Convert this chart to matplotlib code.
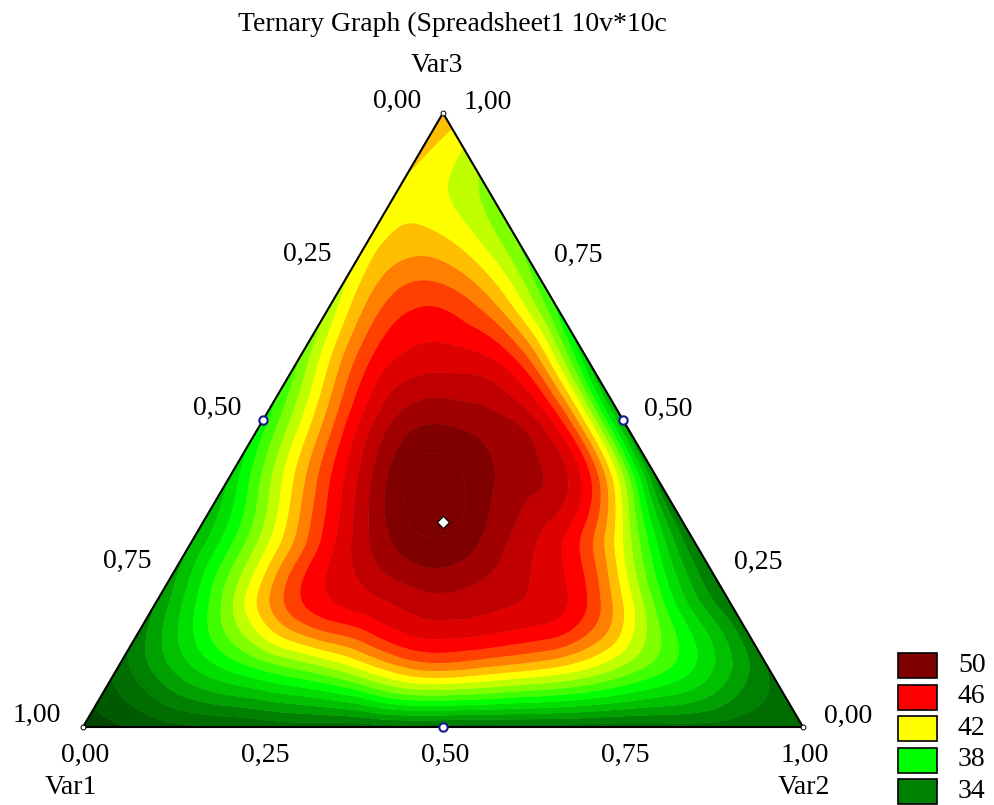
import numpy as np
import matplotlib
matplotlib.use("Agg")
import matplotlib.pyplot as plt
import matplotlib.tri as mtri
from matplotlib.colors import to_rgb
from matplotlib.patches import Rectangle

plt.rcParams["font.family"] = ["Liberation Serif", "DejaVu Serif"]

# ---------------- data ----------------
title = "Ternary Graph (Spreadsheet1 10v*10c"
axis_names = ["Var1", "Var2", "Var3"]
tick_values = [0.0, 0.25, 0.5, 0.75, 1.0]
tick_labels = ["0,00", "0,25", "0,50", "0,75", "1,00"]

# Response at lattice points (step 0.1).
# Row k: Var3 = k/10 ; values run from Var2 = 0 (left edge) to Var2 = 1 - Var3 (right edge)
z_rows = [
    [31.5, 32.5, 33.0, 33.5, 33.5, 33.5, 33.5, 33.5, 33.5, 33.5, 34.0],
    [33.5, 37.0, 39.5, 41.5, 44.3, 44.3, 43.3, 41.0, 38.0, 34.0],
    [35.0, 40.5, 45.8, 47.6, 48.6, 48.0, 46.0, 39.5, 34.0],
    [36.0, 41.5, 47.0, 50.5, 50.0, 47.5, 42.0, 34.0],
    [37.0, 43.5, 49.0, 51.5, 49.5, 46.5, 34.5],
    [38.5, 45.0, 49.5, 49.5, 47.0, 35.5],
    [40.0, 46.0, 47.5, 46.0, 37.0],
    [41.5, 45.5, 44.5, 39.0],
    [42.5, 43.0, 40.0],
    [43.0, 41.0],
    [44.0],
]

# design points (cases) shown with markers: (Var1, Var2, Var3)
pt_var1 = [0.5, 0.0, 0.5]
pt_var2 = [0.0, 0.5, 0.5]
pt_var3 = [0.5, 0.5, 0.0]
centroid = (1 / 3, 1 / 3, 1 / 3)
vert_var1 = [1.0, 0.0, 0.0]
vert_var2 = [0.0, 1.0, 0.0]
vert_var3 = [0.0, 0.0, 1.0]

legend_values = [50, 46, 42, 38, 34]
legend_colors = ["#800000", "#FF0000", "#FFFF00", "#00FF00", "#008000"]

# ---------------- helpers ----------------
H = np.sqrt(3) / 2


def tern_xy(v1, v2, v3):
    v1, v2, v3 = np.asarray(v1, float), np.asarray(v2, float), np.asarray(v3, float)
    s = v1 + v2 + v3
    return (v2 + v3 / 2) / s, v3 * H / s


# lattice
V1, V2, V3, Z = [], [], [], []
for k, row in enumerate(z_rows):
    for j, z in enumerate(row):
        v3 = k / 10
        v2 = j / 10
        V1.append(1 - v2 - v3)
        V2.append(v2)
        V3.append(v3)
        Z.append(z)
X, Y = tern_xy(V1, V2, V3)
Z = np.array(Z)

tri = mtri.Triangulation(X, Y)
refiner = mtri.UniformTriRefiner(tri)
interp = mtri.CubicTriInterpolator(tri, Z, kind="min_E")
tri_f, z_f = refiner.refine_field(Z, triinterpolator=interp, subdiv=4)

# colour bands (1 unit wide), colours interpolated between legend anchors
anchor_v = [29, 34, 38, 42, 46, 50, 54]
anchor_c = ["#002000", "#008000", "#00FF00", "#FFFF00", "#FF0000", "#800000", "#700000"]
anchor_rgb = np.array([to_rgb(c) for c in anchor_c])
levels = np.arange(29, 55, 1.0)


def col_at(v):
    return tuple(np.interp(v, anchor_v, anchor_rgb[:, i]) for i in range(3))


band_colors = [col_at(l) for l in levels[:-1]]

# ---------------- figure ----------------
W, Hpx = 995, 805
fig = plt.figure(figsize=(W / 100, Hpx / 100), dpi=100)
# triangle: bottom-left (83,727), bottom-right (803,727), top (443,113) in pixels
ax = fig.add_axes([83 / W, (Hpx - 727) / Hpx, 720 / W, 614 / Hpx])
ax.set_xlim(0, 1)
ax.set_ylim(0, H)
ax.axis("off")

for _ in range(2):
    ax.tricontourf(tri_f, z_f, levels=levels, colors=band_colors, extend="both", antialiased=True)

tx, ty = tern_xy(vert_var1 + [vert_var1[0]], vert_var2 + [vert_var2[0]], vert_var3 + [vert_var3[0]])
ax.plot(tx, ty, color="black", lw=1.5, clip_on=False, zorder=5)

# markers
mx, my = tern_xy(pt_var1, pt_var2, pt_var3)
ax.plot(mx, my, "o", ms=6, mfc="white", mec="#1a1a8c", mew=1.5, clip_on=False, zorder=6)
cx, cy = tern_xy(*centroid)
ax.plot([cx], [cy], "D", ms=6.5, mfc="white", mec="black", mew=0.8, clip_on=False, zorder=6)
vx, vy = tern_xy(vert_var1, vert_var2, vert_var3)
ax.plot(vx, vy, "o", ms=3.5, mfc="white", mec="black", mew=0.7, clip_on=False, zorder=6)

fs = 20
# left edge: Var1 scale (0 at top, 1 at bottom-left)
for t, lab in zip(tick_values, tick_labels):
    px, py = tern_xy(t, 0.0, 1 - t)
    ax.annotate(lab, (px, py), xytext=(-46, 12), textcoords="offset pixels",
                ha="center", va="center", fontsize=fs, annotation_clip=False)
# right edge: Var3 scale (0 at bottom-right, 1 at top)
for t, lab in zip(tick_values, tick_labels):
    px, py = tern_xy(0.0, 1 - t, t)
    ax.annotate(lab, (px, py), xytext=(45, 11), textcoords="offset pixels",
                ha="center", va="center", fontsize=fs, annotation_clip=False)
# bottom edge: Var2 scale (0 at left, 1 at right)
for t, lab in zip(tick_values, tick_labels):
    px, py = tern_xy(1 - t, t, 0.0)
    ax.annotate(lab, (px, py), xytext=(2, -28), textcoords="offset pixels",
                ha="center", va="center", fontsize=fs, annotation_clip=False)

fig.text(452 / W, 1 - 24 / Hpx, title, ha="center", va="center", fontsize=fs)
fig.text(437 / W, 1 - 66 / Hpx, axis_names[2], ha="center", va="center", fontsize=fs)
fig.text(71 / W, 1 - 787 / Hpx, axis_names[0], ha="center", va="center", fontsize=fs)
fig.text(804 / W, 1 - 787 / Hpx, axis_names[1], ha="center", va="center", fontsize=fs)

# legend
lax = fig.add_axes([0, 0, 1, 1], facecolor="none")
lax.set_xlim(0, W)
lax.set_ylim(Hpx, 0)
lax.axis("off")
for i, (v, c) in enumerate(zip(legend_values, legend_colors)):
    y0 = 653 + i * 31.5
    lax.add_patch(Rectangle((898, y0), 39, 25, facecolor=c, edgecolor="black", lw=1.2))
    lax.text(958, y0 + 12, str(v), ha="left", va="center", fontsize=fs)

fig.savefig("out.png", dpi=100)
